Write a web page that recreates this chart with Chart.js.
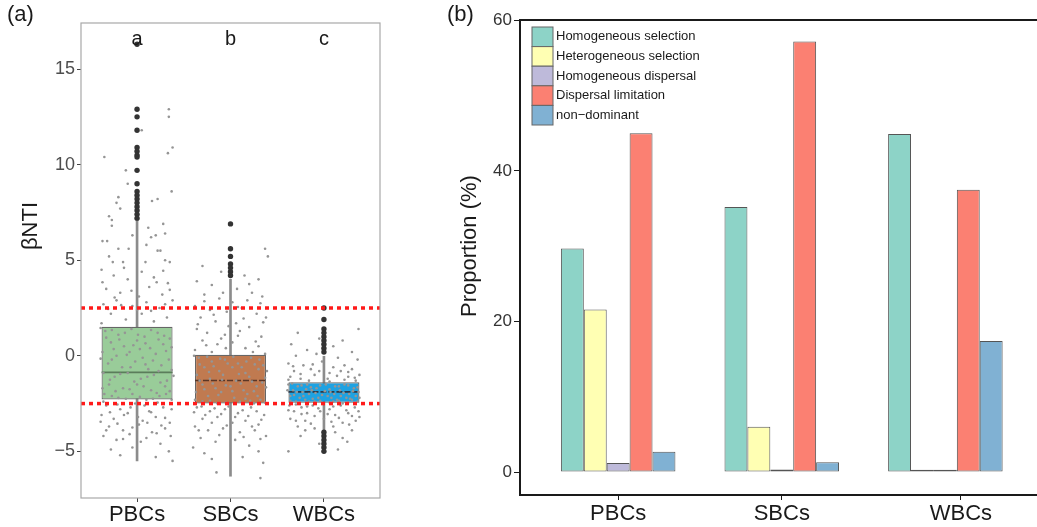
<!DOCTYPE html>
<html>
<head>
<meta charset="utf-8">
<script src="https://cdn.jsdelivr.net/npm/chart.js@4.4.0/dist/chart.umd.min.js"></script>
<style>
html, body { margin: 0; padding: 0; background: #fff; overflow: hidden; }
#wrap { position: relative; width: 1037px; height: 527px; }
#boxWrap { position: absolute; left: 0; top: 0; width: 440px; height: 527px; }
#barWrap { position: absolute; left: 440px; top: 0; width: 597px; height: 527px; }
</style>
</head>
<body>
<div id="wrap">
  <div id="boxWrap"><canvas id="boxChart"></canvas></div>
  <div id="barWrap"><canvas id="barChart"></canvas></div>
</div>
<script>
const FONT = "'Liberation Sans', Arial, sans-serif";

// ---- panel (a) data ----
const groups = ['PBCs', 'SBCs', 'WBCs'];
const letters = ['a', 'b', 'c'];
const whiskerLow = [-5.5, -6.3, -3.9];
const q1 = [-2.29, -2.5, -2.46];
const median = [-0.87, -1.29, -1.89];
const q3 = [1.52, 0.05, -1.39];
const whiskerHigh = [7.1, 4.0, 0.0];
const thresholds = [2.5, -2.5];
const yTicksA = [-5, 0, 5, 10, 15];

const outliersP = [16.3, 12.9, 12.5, 11.8, 10.9, 10.7, 10.5, 10.4, 9.7, 9.0, 8.6, 8.4, 8.2, 8.0, 7.8, 7.6, 7.4, 7.2];
const outliersS = [6.9, 5.6, 5.2, 4.8, 4.6, 4.4, 4.2];
const outliersW = [2.5, 1.9, 1.4, 1.2, 1.0, 0.8, 0.6, 0.4, 0.2, -4.0, -4.2, -4.4, -4.6, -4.8, -5.0];

// jittered samples: [offset from group centre, βNTI]
const jitterP = [
  [-0.35,10.4],[-0.12,9.7],[0.05,11.8],[0.34,12.9],[0.34,12.5],[0.38,10.9],[0.33,10.6],[0.37,8.6],[0.22,8.2],[0.16,8.1],
  [-0.2,8.3],[-0.22,8.0],[-0.18,7.7],[-0.3,7.3],[-0.27,7.1],[-0.1,9.0],[-0.27,6.8],[-0.05,6.3],[0.12,6.7],[0.15,6.2],
  [0.2,6.3],[0.28,6.9],[0.3,6.4],[0.1,5.8],[-0.37,6.0],[-0.32,6.0],[-0.2,5.6],[-0.09,5.6],[0.22,5.5],[0.25,5.5],
  [-0.3,5.2],[-0.26,4.9],[0.35,4.9],[0.3,5.0],[-0.15,4.9],
  [-0.38,4.5],[-0.25,4.2],[-0.1,4.0],[0.05,4.4],[0.18,4.1],[0.33,3.8],[-0.33,3.5],[-0.18,3.3],[0.02,3.1],[0.13,3.6],
  [0.27,3.2],[0.38,2.9],[-0.36,2.7],[-0.22,2.9],[-0.05,2.6],[0.1,2.8],[0.24,2.5],[-0.28,2.2],[0.32,2.0],[-0.12,1.9],
  [0.05,2.2],[0.18,1.8],[-0.38,1.7],
  [-0.34,1.3],[-0.2,1.1],[-0.06,1.4],[0.08,1.0],[0.22,1.2],[0.35,0.9],[-0.28,0.7],[-0.14,0.5],[0.0,0.8],[0.14,0.4],
  [0.28,0.6],[-0.37,0.2],[-0.22,0.0],[-0.08,0.2],[0.06,-0.1],[0.2,0.1],[0.34,-0.2],[-0.31,-0.4],[-0.16,-0.6],[-0.02,-0.3],
  [0.12,-0.7],[0.26,-0.5],[-0.36,-0.9],[-0.24,-1.1],[-0.1,-0.9],[0.04,-1.2],[0.18,-1.0],[0.32,-1.3],[-0.3,-1.5],[-0.15,-1.7],
  [0.0,-1.5],[0.15,-1.8],[0.3,-1.6],[-0.35,-2.0],[-0.2,-2.2],[-0.05,-2.0],[0.1,-2.3],[0.24,-2.1],[0.37,-2.3],
  [-0.33,-2.6],[-0.18,-2.8],[-0.02,-2.5],[0.13,-2.9],[0.28,-2.7],[-0.38,-3.1],[-0.25,-3.3],[-0.1,-3.0],[0.06,-3.4],[0.2,-3.2],
  [0.35,-3.5],[-0.3,-3.7],[-0.15,-3.9],[0.02,-3.6],[0.16,-4.0],[0.3,-3.8],[-0.36,-4.2],[-0.22,-4.4],[0.1,-4.3],[0.25,-4.6],
  [-0.28,-4.9],[-0.05,-4.8],[0.34,-5.0],[-0.18,-5.2],[0.38,-5.5],[0.2,-5.3],
  [-0.39,1.45],[-0.27,1.35],[-0.13,1.2],[0.01,1.1],[0.15,1.35],[0.29,1.05],[-0.33,0.95],[-0.19,0.85],[-0.04,0.55],[0.09,0.65],
  [0.23,0.85],[0.37,0.45],[-0.25,0.35],[-0.11,0.05],[0.03,0.35],[0.17,-0.25],[0.31,0.25],[-0.39,-0.15],[-0.27,-0.2],[-0.07,-0.6],
  [0.09,-0.45],[0.23,-0.8],[0.37,-0.75],[-0.29,-1.25],[-0.18,-0.95],[-0.03,-1.35],[0.11,-1.1],[0.25,-1.4],[0.39,-1.05],[-0.37,-1.7],
  [-0.23,-1.85],[-0.08,-1.75],[0.07,-1.6],[0.21,-1.95],[0.35,-1.85],[-0.27,-2.1],[-0.12,-2.25],[0.03,-2.15],[0.17,-2.25],[0.31,-2.0],
  [-0.36,-2.4],[-0.21,-2.55],[-0.07,-2.7],[0.08,-2.6],[0.22,-2.45],[0.37,-2.8],[-0.29,-2.95],[-0.14,-3.1],[0.01,-3.2],[0.15,-2.95],
  [0.3,-3.25],[-0.39,-3.45],[-0.21,-3.55],[-0.05,-3.75],[0.11,-3.5],[0.26,-3.65],[-0.33,-3.9],[-0.08,-4.1],[0.21,-4.05],[0.36,-4.2],
  [-0.15,-4.35],[0.04,-4.5],
  [-0.31,2.45],[-0.17,2.65],[0.0,2.4],[0.15,2.35],[0.3,2.7],[-0.24,3.05],[-0.06,3.4],[0.21,3.85],[0.35,3.45],[-0.37,3.85],
  [-0.14,4.6],[0.09,4.9],[0.28,4.45]
];
const jitterS = [
  [0.37,5.6],[0.4,5.2],[-0.3,4.7],[-0.1,4.4],[0.15,4.2],[0.3,4.0],[-0.36,3.9],[-0.2,3.7],[0.07,3.5],[0.23,3.3],
  [0.34,3.1],[-0.28,3.2],[-0.12,3.0],[0.02,2.8],[0.18,2.9],[-0.38,2.6],[-0.22,2.4],[-0.04,2.3],[0.12,2.5],[0.28,2.2],
  [0.38,2.0],[-0.32,2.0],[-0.16,1.8],[0.06,1.7],[0.2,1.5],[-0.36,1.4],[-0.25,1.2],[-0.06,1.1],[0.1,1.3],[0.33,1.0],
  [-0.3,0.8],[-0.14,0.6],[0.02,0.7],[0.16,0.4],[0.3,0.5],[-0.38,0.3],[-0.2,0.2],[-0.05,0.4],[0.24,0.2],[0.37,0.1],
  [-0.34,-0.1],[-0.2,-0.3],[-0.06,-0.2],[0.08,-0.4],[0.22,-0.1],[0.35,-0.5],[-0.28,-0.6],[-0.12,-0.8],[0.02,-0.6],[0.16,-0.9],
  [0.3,-0.7],[-0.36,-1.0],[-0.22,-1.2],[-0.08,-1.0],[0.06,-1.3],[0.2,-1.1],[0.34,-1.4],[-0.3,-1.5],[-0.16,-1.7],[0.0,-1.6],
  [0.14,-1.8],[0.28,-1.6],[-0.37,-1.9],[-0.24,-2.1],[-0.1,-1.9],[0.04,-2.2],[0.18,-2.0],[0.32,-2.3],[-0.3,-2.4],[-0.14,-2.5],
  [0.1,-2.4],[0.25,-2.5],
  [-0.36,-2.7],[-0.22,-2.9],[-0.06,-2.8],[0.08,-3.0],[0.22,-2.7],[0.36,-3.1],[-0.3,-3.3],[-0.14,-3.2],[0.02,-3.5],[0.16,-3.4],
  [0.3,-3.6],[-0.38,-3.7],[-0.24,-3.9],[-0.08,-3.8],[0.1,-4.0],[0.26,-3.9],[0.38,-4.2],[-0.32,-4.3],[-0.16,-4.5],[0.05,-4.4],
  [0.2,-4.7],[-0.4,-4.8],[-0.28,-5.1],[0.3,-5.0],[-0.2,-5.4],[0.13,-5.3],[0.35,-5.6],[-0.15,-6.1],[0.32,-6.4],
  [-0.39,0.0],[-0.25,-0.05],[-0.11,-0.15],[0.03,-0.05],[0.17,-0.3],[0.31,-0.2],[-0.33,-0.45],[-0.18,-0.55],[-0.03,-0.4],[0.12,-0.6],
  [0.26,-0.45],[0.39,-0.8],[-0.23,-0.85],[-0.09,-1.25],[0.09,-0.95],[0.23,-1.35],[0.37,-1.15],[-0.33,-1.3],[-0.19,-1.45],[-0.05,-1.55],
  [0.11,-1.45],[0.25,-1.85],[0.38,-1.65],[-0.28,-1.75],[-0.13,-2.05],[0.02,-1.85],[0.16,-2.25],[0.29,-2.1],[-0.38,-2.3],[-0.22,-2.35],
  [-0.05,-2.45],[0.21,-2.35],[0.37,-2.45],
  [-0.31,-2.65],[-0.17,-2.75],[-0.02,-2.65],[0.13,-2.85],[0.28,-2.9],[-0.39,-2.95],[-0.27,-3.1],[-0.1,-3.05],[0.05,-3.2],[0.19,-3.15],
  [0.33,-3.35],[-0.2,-3.5],[-0.04,-3.65],[0.23,-3.7],[-0.34,-3.9],[-0.12,-4.15],[0.14,-4.25],[0.32,-4.35],
  [-0.26,0.55],[-0.1,0.9],[0.08,1.05],[0.27,0.75],[-0.35,1.65],[-0.02,1.55],[0.14,1.95],[0.35,1.75],[-0.18,2.15],[0.08,2.55],
  [0.32,2.75],[-0.28,2.85],[-0.08,3.3],[0.2,3.75]
];
const jitterW = [
  [-0.28,1.2],[0.37,1.4],[-0.05,0.9],[0.2,0.8],[-0.35,0.6],[0.1,0.5],[-0.18,0.3],[0.3,0.2],[-0.3,0.0],[-0.08,0.1],
  [0.15,-0.1],[0.36,-0.2],[-0.38,-0.4],[-0.22,-0.5],[-0.02,-0.3],[0.22,-0.5],[0.3,-0.7],[-0.32,-0.8],[-0.14,-0.7],[0.06,-0.9],
  [0.18,-0.8],[0.38,-1.0],[-0.36,-1.1],[-0.25,-1.2],[-0.1,-1.0],[0.04,-1.2],[0.26,-1.1],[0.34,-1.3],
  [-0.38,-1.5],[-0.28,-1.6],[-0.18,-1.5],[-0.08,-1.7],[0.02,-1.5],[0.12,-1.6],[0.22,-1.5],[0.32,-1.7],[-0.33,-1.8],[-0.23,-1.9],
  [-0.13,-1.8],[0.07,-1.9],[0.17,-1.8],[0.27,-2.0],[0.37,-1.9],[-0.36,-2.1],[-0.26,-2.2],[-0.16,-2.0],[-0.06,-2.2],[0.04,-2.1],
  [0.14,-2.3],[0.24,-2.2],[0.34,-2.1],[-0.3,-2.4],[-0.2,-2.3],[-0.1,-2.4],[0.1,-2.4],[0.2,-2.5],[0.3,-2.3],
  [-0.37,-2.6],[-0.24,-2.7],[-0.12,-2.6],[0.06,-2.8],[0.18,-2.6],[0.33,-2.7],[-0.32,-2.9],[-0.18,-3.0],[-0.04,-2.9],[0.12,-3.1],
  [0.26,-3.0],[0.38,-3.2],[-0.36,-3.3],[-0.2,-3.4],[0.0,-3.3],[0.2,-3.5],[0.34,-3.4],[-0.28,-3.7],[-0.1,-3.8],[0.1,-3.7],
  [0.3,-3.9],[-0.25,-4.2],[0.2,-4.3],[-0.05,-4.6],[0.25,-4.5],[-0.38,-5.0],[0.15,-4.9],
  [-0.34,-1.45],[-0.24,-1.55],[-0.14,-1.65],[-0.04,-1.55],[0.06,-1.75],[0.16,-1.6],[0.26,-1.55],[0.36,-1.65],[-0.39,-1.8],[-0.29,-1.9],
  [-0.19,-1.75],[-0.09,-1.95],[0.01,-1.85],[0.11,-2.0],[0.21,-1.95],[0.31,-1.85],[-0.32,-2.05],[-0.22,-2.1],[-0.12,-2.25],[-0.02,-2.05],
  [0.08,-2.2],[0.18,-2.1],[0.28,-2.25],[0.38,-2.2],[-0.36,-2.35],[-0.26,-2.45],[-0.16,-2.4],[-0.04,-2.35],[0.06,-2.45],[0.16,-2.35],
  [0.26,-2.45],[0.36,-2.4],
  [-0.33,-0.55],[-0.12,-0.45],[0.1,-0.6],[0.26,-0.85],[-0.25,-0.95],[-0.05,-0.8],[0.14,-1.05],[0.33,-1.15],[-0.38,-1.25],[-0.16,-1.3],
  [0.06,-1.35],[0.22,-1.25],
  [-0.3,-2.55],[-0.18,-2.65],[-0.06,-2.75],[0.1,-2.65],[0.24,-2.85],[0.37,-2.9],[-0.38,-2.85],[-0.24,-3.05],[-0.1,-3.15],[0.04,-3.05],
  [0.16,-3.25],[0.3,-3.15],[-0.3,-3.4],[-0.14,-3.55],[0.08,-3.45],[0.27,-3.6],[-0.2,-3.9],[0.12,-4.0]
];

// ---- panel (b) data ----
const processes = ['Homogeneous selection', 'Heterogeneous selection', 'Homogeneous dispersal', 'Dispersal limitation', 'non\u2212dominant'];
const homSelection = [29.7, 35.2, 44.9];
const hetSelection = [21.6, 6.0, 0.3];
const homDispersal = [1.2, 0.35, 0.3];
const dispLimitation = [45.0, 57.2, 37.5];
const nonDominant = [2.7, 1.3, 17.4];
const yTicksB = [0, 20, 40, 60];

const boxColors = ['#99cc99', '#c07a50', '#1ea2e2'];
const medianColors = ['#5b7d5b', '#5a3626', '#2b3a4a'];
const barColors = ['#8DD3C7', '#FFFFB3', '#BEBADA', '#FB8072', '#80B1D3'];

const tickPosA = [1, 2, 3];
const tickPosB = [1, 2, 3.095];

let jitterData = [];
[jitterP, jitterS, jitterW].forEach((arr, i) => {
    arr.forEach(p => jitterData.push({ x: i + 1 + p[0], y: p[1] }));
});
let outlierData = [];
[outliersP, outliersS, outliersW].forEach((arr, i) => {
    arr.forEach(v => outlierData.push({ x: i + 1, y: v }));
});

function rotatedText(ctx, text, x, y, font, color) {
    ctx.save();
    ctx.translate(x, y);
    ctx.rotate(-Math.PI / 2);
    ctx.font = font;
    ctx.fillStyle = color;
    ctx.textAlign = 'center';
    ctx.textBaseline = 'middle';
    ctx.fillText(text, 0, 0);
    ctx.restore();
}

const boxExtras = {
    id: 'boxExtras',
    afterDatasetDraw(chart, args) {
        if (args.index !== 1) return;
        // median lines on top of boxes
        const ctx = chart.ctx, x = chart.scales.x, y = chart.scales.y;
        ctx.save();
        median.forEach((m, i) => {
            ctx.strokeStyle = medianColors[i];
            ctx.lineWidth = 1.6;
            ctx.setLineDash(i === 0 ? [] : [6, 2]);
            ctx.beginPath();
            ctx.moveTo(x.getPixelForValue(i + 1 - 0.38), y.getPixelForValue(m));
            ctx.lineTo(x.getPixelForValue(i + 1 + 0.38), y.getPixelForValue(m));
            ctx.stroke();
        });
        ctx.restore();
    },
    afterDatasetsDraw(chart) {
        const ctx = chart.ctx, a = chart.chartArea, y = chart.scales.y, x = chart.scales.x;
        ctx.save();
        ctx.strokeStyle = '#ff1a1a';
        ctx.lineWidth = 3.5;
        ctx.setLineDash([4, 4]);
        thresholds.forEach(t => {
            const py = y.getPixelForValue(t);
            ctx.beginPath();
            ctx.moveTo(a.left, py);
            ctx.lineTo(a.right, py);
            ctx.stroke();
        });
        ctx.setLineDash([]);
        ctx.strokeStyle = '#a8a8a8';
        ctx.lineWidth = 1.2;
        ctx.strokeRect(a.left, a.top, a.right - a.left, a.bottom - a.top);
        ctx.fillStyle = '#1a1a1a';
        ctx.font = '20px ' + FONT;
        ctx.textAlign = 'center';
        ctx.textBaseline = 'middle';
        letters.forEach((l, i) => ctx.fillText(l, x.getPixelForValue(i + 1), a.top + 16));
        ctx.font = '22px ' + FONT;
        ctx.textAlign = 'left';
        ctx.fillText('(a)', 7, 15);
        ctx.restore();
        rotatedText(ctx, '\u03b2NTI', 31, 226, '22px ' + FONT, '#1a1a1a');
    }
};

const barExtras = {
    id: 'barExtras',
    afterDraw(chart) {
        const ctx = chart.ctx, a = chart.chartArea;
        ctx.save();
        ctx.strokeStyle = '#1a1a1a';
        ctx.lineWidth = 2;
        ctx.beginPath();
        ctx.moveTo(a.left, a.top);
        ctx.lineTo(a.right, a.top);
        ctx.stroke();
        // legend
        const bx = a.left + 12, by = a.top + 7, bw = 21, bh = 19.6;
        processes.forEach((p, i) => {
            ctx.fillStyle = barColors[i];
            ctx.fillRect(bx, by + i * bh, bw, bh);
            ctx.strokeStyle = '#666';
            ctx.lineWidth = 1;
            ctx.strokeRect(bx, by + i * bh, bw, bh);
            ctx.fillStyle = '#1a1a1a';
            ctx.font = '13px ' + FONT;
            ctx.textAlign = 'left';
            ctx.textBaseline = 'middle';
            ctx.fillText(p, bx + bw + 3, by + i * bh + bh / 2);
        });
        ctx.font = '22px ' + FONT;
        ctx.fillText('(b)', 7, 15);
        ctx.restore();
        rotatedText(ctx, 'Proportion (%)', 30, 246, '22px ' + FONT, '#1a1a1a');
    }
};

Chart.defaults.animation = false;
Chart.defaults.font.family = FONT;

let boxChart = new Chart(document.getElementById('boxChart'), {
    type: 'bar',
    data: {
        datasets: [
            {
                label: 'whisker',
                data: groups.map((g, i) => ({ x: i + 1, y: [whiskerLow[i], whiskerHigh[i]] })),
                backgroundColor: '#8c8c8c',
                barThickness: 2,
                order: 4
            },
            {
                label: 'box',
                data: groups.map((g, i) => ({ x: i + 1, y: [q1[i], q3[i]] })),
                backgroundColor: boxColors,
                borderColor: '#666',
                borderWidth: 1.2,
                borderSkipped: false,
                categoryPercentage: 1,
                barPercentage: 0.76,
                order: 3
            },
            {
                type: 'scatter',
                label: 'jitter',
                data: jitterData,
                pointRadius: 1.3,
                pointBackgroundColor: '#959595',
                pointBorderWidth: 0,
                order: 1
            },
            {
                type: 'scatter',
                label: 'outliers',
                data: outlierData,
                pointRadius: 2.7,
                pointBackgroundColor: '#333',
                pointBorderWidth: 0,
                order: 2
            }
        ]
    },
    options: {
        responsive: true,
        maintainAspectRatio: false,
        datasets: { bar: { grouped: false } },
        layout: { padding: { top: 23, right: 60, left: 0, bottom: 0 } },
        plugins: { legend: { display: false }, tooltip: { enabled: false } },
        scales: {
            x: {
                type: 'linear',
                min: 0.4,
                max: 3.6,
                offset: false,
                afterBuildTicks: s => { s.ticks = tickPosA.map(v => ({ value: v })); },
                afterFit: s => { s.height = 29; },
                ticks: {
                    callback: v => groups[tickPosA.indexOf(v)],
                    font: { size: 22 },
                    color: '#1a1a1a',
                    padding: 0,
                    autoSkip: false,
                    maxRotation: 0
                },
                grid: { offset: false, drawOnChartArea: false, drawTicks: true, tickLength: 4, color: '#444' },
                border: { display: false }
            },
            y: {
                min: -7.44,
                max: 17.41,
                afterBuildTicks: s => { s.ticks = yTicksA.map(v => ({ value: v })); },
                afterFit: s => { s.width = 81; },
                ticks: {
                    callback: v => String(v).replace('-', '\u2212'),
                    font: { size: 18 },
                    color: '#4d4d4d',
                    padding: 2
                },
                grid: { drawOnChartArea: false, drawTicks: true, tickLength: 4, color: '#444' },
                border: { display: false }
            }
        }
    },
    plugins: [boxExtras]
});

const barSeries = [homSelection, hetSelection, homDispersal, dispLimitation, nonDominant];

let barChart = new Chart(document.getElementById('barChart'), {
    type: 'bar',
    data: {
        datasets: barSeries.map((s, k) => ({
            label: processes[k],
            data: s.map((v, i) => ({ x: i + 1, y: v })),
            backgroundColor: barColors[k],
            borderColor: '#555',
            borderWidth: 1,
            borderSkipped: false,
            categoryPercentage: 0.7,
            barPercentage: 1
        }))
    },
    options: {
        responsive: true,
        maintainAspectRatio: false,
        layout: { padding: { top: 20, right: 0, left: 0, bottom: 0 } },
        plugins: { legend: { display: false }, tooltip: { enabled: false } },
        scales: {
            x: {
                type: 'linear',
                min: 0.4,
                max: 3.56,
                offset: false,
                afterBuildTicks: s => { s.ticks = tickPosB.map(v => ({ value: v })); },
                afterFit: s => { s.height = 32; },
                ticks: {
                    callback: v => groups[tickPosB.indexOf(v)],
                    font: { size: 22 },
                    color: '#1a1a1a',
                    padding: 1,
                    autoSkip: false,
                    maxRotation: 0
                },
                grid: { offset: false, drawOnChartArea: false, drawTicks: true, tickLength: 5, color: '#1a1a1a' },
                border: { display: true, color: '#1a1a1a', width: 2 }
            },
            y: {
                min: -3.05,
                max: 60.05,
                afterBuildTicks: s => { s.ticks = yTicksB.map(v => ({ value: v })); },
                afterFit: s => { s.width = 80; },
                ticks: {
                    font: { size: 17 },
                    color: '#333',
                    padding: 2
                },
                grid: { drawOnChartArea: false, drawTicks: true, tickLength: 6, color: '#1a1a1a' },
                border: { display: true, color: '#1a1a1a', width: 2 }
            }
        }
    },
    plugins: [barExtras]
});
</script>
</body>
</html>
